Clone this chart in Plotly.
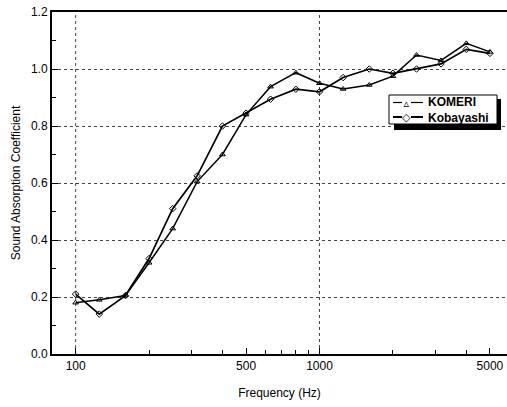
import plotly.graph_objects as go

freq = [100, 125, 160, 200, 250, 315, 400, 500, 630, 800, 1000, 1250, 1600, 2000, 2500, 3150, 4000, 5000]
komeri = [0.18, 0.19, 0.205, 0.32, 0.44, 0.605, 0.70, 0.84, 0.938, 0.987, 0.95, 0.93, 0.944, 0.975, 1.049, 1.03, 1.09, 1.06]
kobayashi = [0.21, 0.14, 0.205, 0.335, 0.51, 0.625, 0.80, 0.845, 0.894, 0.929, 0.92, 0.97, 1.0, 0.985, 1.0, 1.018, 1.069, 1.055]
series_names = ["KOMERI", "Kobayashi"]

x_ticks = [100, 500, 1000, 5000]
x_minor = [200, 300, 400, 600, 700, 800, 900, 2000, 3000, 4000]
x_grid = [100, 1000]
y_ticks = [0.0, 0.2, 0.4, 0.6, 0.8, 1.0, 1.2]

FONT = "Liberation Sans, Arial, sans-serif"
L, R, T, B, W, H = 52, 0, 12, 53, 507, 407
PW, PH = W - L - R, H - T - B


def px(x):
    return (x - L) / PW


def py(y):
    return (H - B - y) / PH


fig = go.Figure()
fig.add_trace(go.Scatter(
    x=freq, y=komeri, mode="lines+markers", name=series_names[0],
    line=dict(color="black", width=1.5),
    marker=dict(symbol="triangle-up-open", size=5, color="black", line=dict(width=1)),
))
fig.add_trace(go.Scatter(
    x=freq, y=kobayashi, mode="lines+markers", name=series_names[1],
    line=dict(color="black", width=1.7),
    marker=dict(symbol="diamond-open", size=5, color="black", line=dict(width=1)),
))

for g in x_grid:
    fig.add_shape(type="line", xref="x", yref="paper", x0=g, x1=g, y0=0, y1=1,
                  line=dict(color="#444", width=1, dash="dot"), layer="below")

# manual legend: shadow, box, glyphs, labels
fig.add_shape(type="rect", xref="paper", yref="paper",
              x0=px(394), x1=px(501), y0=py(130), y1=py(99),
              fillcolor="black", line=dict(width=0), layer="above")
fig.add_shape(type="rect", xref="paper", yref="paper",
              x0=px(389), x1=px(497), y0=py(124), y1=py(95),
              fillcolor="white", line=dict(color="black", width=1), layer="above")
legend_rows = [102.5, 117]
legend_syms = ["▵", "◇"]
legend_widths = [1.2, 2]
for row, sym, lw in zip(legend_rows, legend_syms, legend_widths):
    fig.add_shape(type="line", xref="paper", yref="paper",
                  x0=px(393), x1=px(402), y0=py(row), y1=py(row),
                  line=dict(color="black", width=lw), layer="above")
    fig.add_shape(type="line", xref="paper", yref="paper",
                  x0=px(411), x1=px(423), y0=py(row), y1=py(row),
                  line=dict(color="black", width=lw), layer="above")
fig.add_annotation(xref="paper", yref="paper", x=px(406.5), y=py(110),
                   text="<br>".join(legend_syms), showarrow=False,
                   xanchor="center", yanchor="middle", align="center",
                   font=dict(family="DejaVu Sans", size=11, color="black"))
fig.add_annotation(xref="paper", yref="paper", x=px(426), y=py(110),
                   text="<br>".join(f"<b>{n}</b>" for n in series_names),
                   showarrow=False, xanchor="left", yanchor="middle", align="left",
                   font=dict(family=FONT, size=12, color="black"))

fig.update_layout(
    width=W, height=H,
    margin=dict(l=L, r=R, t=T, b=B),
    paper_bgcolor="white", plot_bgcolor="white",
    font=dict(family=FONT, size=12, color="black"),
    showlegend=False,
    xaxis=dict(
        type="log", range=[1.903, 3.769],
        tickmode="array", tickvals=x_ticks, ticktext=[str(v) for v in x_ticks],
        ticks="inside", ticklen=6, tickwidth=1, tickcolor="black",
        showgrid=False, zeroline=False,
        showline=True, linecolor="black", linewidth=2, mirror=True,
        minor=dict(tickmode="array", tickvals=x_minor, ticks="inside", ticklen=4,
                   tickcolor="black", showgrid=False),
        title=dict(text="Frequency (Hz)", standoff=16, font=dict(size=12)),
        tickfont=dict(size=12),
    ),
    yaxis=dict(
        range=[0, 1.2],
        tickmode="array", tickvals=y_ticks, ticktext=[f"{v:.1f}" for v in y_ticks],
        ticks="inside", ticklen=6, tickwidth=1, tickcolor="black",
        showgrid=True, gridcolor="#444", griddash="dot", gridwidth=1,
        zeroline=False,
        showline=True, linecolor="black", linewidth=2,
        minor=dict(dtick=0.1, ticks="inside", ticklen=4, tickcolor="black", showgrid=False),
        title=dict(text="Sound Absorption Coefficient", standoff=8, font=dict(size=12)),
        tickfont=dict(size=12),
    ),
)

fig.write_html("out.html")
